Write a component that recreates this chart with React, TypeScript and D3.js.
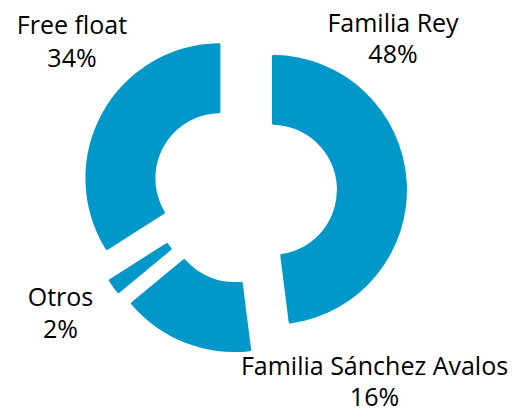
import React from "react";
import * as d3 from "d3";

const categories = ["Familia Rey", "Familia Sánchez Avalos", "Otros", "Free float"];
const values = [48, 16, 2, 34];
const valueLabels = ["48%", "16%", "2%", "34%"];

// layout
const W = 519;
const H = 412;
const CX = 244.5;
const CY = 191.5;
const R_OUT = 135;
const R_IN = 65;
const EXPLODE = 27.5;
const COLOR = "#0097c9";
const labelPos = [
  { x: 393, y: 31.7, gap: 31.6 },
  { x: 374.5, y: 374.5, gap: 31 },
  { x: 60.5, y: 306, gap: 32 },
  { x: 72, y: 34.3, gap: 32.4 },
];

export default function App() {
  const pie = d3
    .pie<number>()
    .sort(null)
    .value((d) => d)
    .startAngle(0)
    .endAngle(2 * Math.PI);
  const arcs = pie(values);
  const arc = d3
    .arc<d3.PieArcDatum<number>>()
    .innerRadius(R_IN)
    .outerRadius(R_OUT)
    .cornerRadius(1.5);

  return (
    <svg
      width={W}
      height={H}
      style={{ position: "absolute", left: 0, top: 0, background: "#fff" }}
      fontFamily="'Open Sans', sans-serif"
    >
      <g transform={`translate(${CX},${CY})`}>
        {arcs.map((a, i) => {
          const mid = (a.startAngle + a.endAngle) / 2;
          const dx = EXPLODE * Math.sin(mid);
          const dy = -EXPLODE * Math.cos(mid);
          return (
            <path
              key={categories[i]}
              d={arc(a) || ""}
              fill={COLOR}
              transform={`translate(${dx},${dy})`}
            />
          );
        })}
      </g>
      {categories.map((c, i) => (
        <g key={c}>
          <text
            x={labelPos[i].x}
            y={labelPos[i].y}
            textAnchor="middle"
            fontSize={25}
            fill="#000"
          >
            {c}
          </text>
          <text
            x={labelPos[i].x}
            y={labelPos[i].y + labelPos[i].gap}
            textAnchor="middle"
            fontSize={25}
            fill="#000"
          >
            {valueLabels[i]}
          </text>
        </g>
      ))}
    </svg>
  );
}
